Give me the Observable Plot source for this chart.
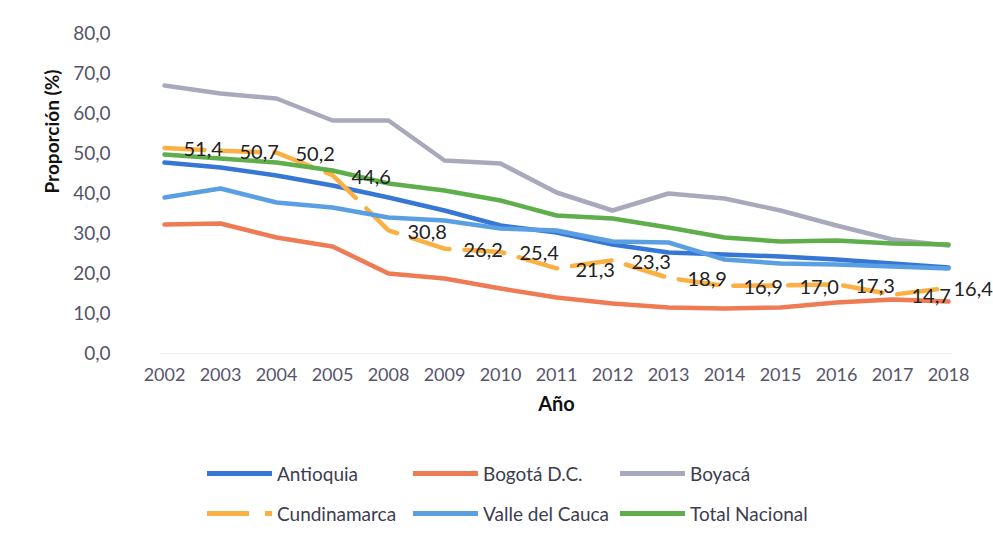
<!DOCTYPE html>
<html><head><meta charset="utf-8">
<script src="https://cdn.jsdelivr.net/npm/d3@7"></script>
<script src="https://cdn.jsdelivr.net/npm/@observablehq/plot@0.6"></script>
<style>
body{margin:0;background:#fff;font-family:Lato,"Open Sans",sans-serif;}
#wrap{position:relative;width:993px;height:538px;overflow:hidden;background:#fff;}
#chart{position:absolute;left:0;top:0;}
.item{position:absolute;display:flex;align-items:center;font-size:19px;color:#3d3d50;transform:translateY(-50%);white-space:nowrap;}
.item svg{display:block;margin-right:5px;}
</style></head>
<body><div id="wrap"><div id="chart"></div><div id="legend"></div></div>
<script>
const years = ["2002","2003","2004","2005","2008","2009","2010","2011","2012","2013","2014","2015","2016","2017","2018"];
const yTicks = [0,10,20,30,40,50,60,70,80];
const seriesNames = ["Antioquia","Bogotá D.C.","Boyacá","Cundinamarca","Valle del Cauca","Total Nacional"];
const antioquia    = [47.75,46.5,44.5,42.0,39.0,35.75,32.0,30.25,27.25,25.25,24.75,24.25,23.5,22.5,21.5];
const bogota       = [32.25,32.5,29.0,26.75,20.0,18.75,16.25,14.0,12.5,11.5,11.25,11.5,12.75,13.5,13.0];
const boyaca       = [67.0,65.0,63.75,58.25,58.25,48.25,47.5,40.25,35.75,40.0,38.75,35.75,32.0,28.5,27.0];
const cundinamarca = [51.4,50.7,50.2,44.6,30.8,26.2,25.4,21.3,23.3,18.9,16.9,17.0,17.3,14.7,16.4];
const valle        = [39.0,41.25,37.75,36.5,34.0,33.25,31.25,30.75,28.0,27.75,23.5,22.5,22.25,21.75,21.25];
const totalNac     = [49.75,48.75,47.75,45.75,42.5,40.75,38.25,34.5,33.75,31.5,29.0,28.0,28.25,27.5,27.25];
const yLabel = "Proporción (%)";
const xLabel = "Año";

const seriesValues = [antioquia, bogota, boyaca, cundinamarca, valle, totalNac];
const colors = ["#3677d6","#ef7b55","#a9a9bd","#fbb043","#5a9fe2","#5fae4c"];
const dashes = [null,null,null,"40,15",null,null];

const rows = [];
seriesNames.forEach((s,i)=>years.forEach((y,j)=>rows.push({serie:s, year:y, value:seriesValues[i][j]})));
const fmt = v => v.toFixed(1).replace(".", ",");

const lineMarks = seriesNames.map((s,i)=>Plot.line(rows.filter(r=>r.serie===s), {
  x:"year", y:"value", stroke:colors[i], strokeWidth:4.5, strokeLinejoin:"round", strokeLinecap:"round",
  strokeDasharray: dashes[i] || undefined
}));

const cundRows = rows.filter(r=>r.serie==="Cundinamarca");
const lastYear = years[years.length-1];

const chart = Plot.plot({
  width: 993, height: 440,
  marginTop: 33, marginBottom: 87, marginLeft: 160, marginRight: 41,
  style: {fontFamily: "Lato, 'Open Sans', sans-serif", background: "#fff", overflow: "visible"},
  x: {type: "point", domain: years, padding: 0},
  y: {domain: [0, 80]},
  marks: [
    Plot.ruleY([0], {stroke: "#ececf2", strokeWidth: 1}),
    Plot.axisY({ticks: yTicks, tickFormat: fmt, tickSize: 0, tickPadding: 50, label: null, fontSize: 19, color: "#55556a"}),
    Plot.axisX({tickSize: 0, tickPadding: 15, label: null, fontSize: 18, color: "#55556a"}),
    ...lineMarks,
    Plot.text(cundRows.filter(r=>r.year!==lastYear), {x:"year", y:"value", text: d=>fmt(d.value),
      textAnchor:"start", dx: 19, dy: 2, fontSize: 20, fill: "#222"}),
    Plot.text(cundRows.filter(r=>r.year===lastYear), {x:"year", y:"value", text: d=>fmt(d.value),
      textAnchor:"start", dx: 5, dy: 2, fontSize: 20, fill: "#222"}),
    Plot.text([yLabel], {frameAnchor:"left", dx:-108, rotate:-90, fontSize:19, fontWeight:"bold", fill:"#111"}),
    Plot.text([xLabel], {frameAnchor:"bottom", dy:57, fontSize:20, fontWeight:"bold", fill:"#111"})
  ]
});
document.getElementById("chart").appendChild(chart);

// legend
const legend = document.getElementById("legend");
const colX = [207, 413, 620];
const rowY = [473, 513];
seriesNames.forEach((s,i)=>{
  const div = document.createElement("div");
  div.className = "item";
  div.style.left = colX[i%3] + "px";
  div.style.top = rowY[Math.floor(i/3)] + "px";
  const dash = dashes[i] ? `stroke-dasharray="42,16"` : "";
  div.innerHTML = `<svg width="65" height="8"><line x1="0" y1="4" x2="65" y2="4" stroke="${colors[i]}" stroke-width="5" ${dash}/></svg><span>${s}</span>`;
  legend.appendChild(div);
});
</script>
</body></html>
